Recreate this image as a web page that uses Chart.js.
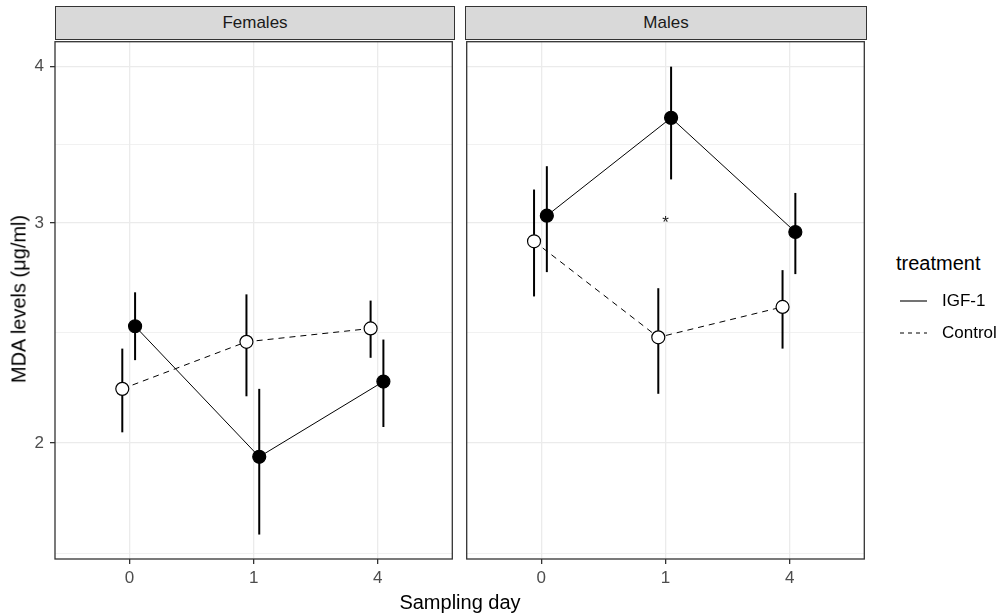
<!DOCTYPE html>
<html>
<head>
<meta charset="utf-8">
<script src="https://cdn.jsdelivr.net/npm/chart.js@4/dist/chart.umd.min.js"></script>
<style>
  body { margin: 0; background: #fff; font-family: "Liberation Sans", Arial, sans-serif; }
  #fig { position: relative; width: 1006px; height: 615px; overflow: hidden; }
  canvas { position: absolute; }
  .strip { position: absolute; top: 6px; height: 34px; background: #d9d9d9; border: 1.3px solid #333;
           box-sizing: border-box; font-size: 17px; color: #1a1a1a; text-align: center; line-height: 32px; }
  .txt { position: absolute; white-space: nowrap; color: #000; }
</style>
</head>
<body>
<div id="fig">
  <canvas id="left" width="460" height="581" style="left:0;top:34px"></canvas>
  <canvas id="right" width="413" height="581" style="left:459px;top:34px"></canvas>
  <div class="strip" style="left:55px;width:400px">Females</div>
  <div class="strip" style="left:465px;width:402px">Males</div>
  <div class="txt" style="left:19px;top:299px;font-size:20px;transform:translate(-50%,-50%) rotate(-90deg)">MDA levels (μg/ml)</div>
  <div class="txt" style="left:460px;top:602px;font-size:20px;transform:translate(-50%,-50%)">Sampling day</div>
  <div class="txt" style="left:896px;top:263px;font-size:20px;transform:translateY(-50%)">treatment</div>
  <svg style="position:absolute;left:0;top:0" width="1006" height="615">
    <line x1="900" y1="301" x2="927" y2="301" stroke="#000" stroke-width="1.1"/>
    <line x1="900" y1="333" x2="927" y2="333" stroke="#000" stroke-width="1.1" stroke-dasharray="4,4"/>
  </svg>
  <div class="txt" style="left:942px;top:301px;font-size:17px;transform:translateY(-50%)">IGF-1</div>
  <div class="txt" style="left:942px;top:333px;font-size:17px;transform:translateY(-50%)">Control</div>
</div>
<script>
const days = ["0", "1", "4"];
const yTicks = [2, 3, 4];

// Females
const femIgfMean = [2.48, 1.95, 2.24];
const femIgfLow = [2.33, 1.69, 2.06];
const femIgfHigh = [2.64, 2.21, 2.42];
const femCtrlMean = [2.21, 2.41, 2.47];
const femCtrlLow = [2.04, 2.18, 2.34];
const femCtrlHigh = [2.38, 2.63, 2.60];

// Males
const maleIgfMean = [3.04, 3.64, 2.95];
const maleIgfLow = [2.74, 3.25, 2.73];
const maleIgfHigh = [3.33, 4.0, 3.17];
const maleCtrlMean = [2.90, 2.43, 2.57];
const maleCtrlLow = [2.62, 2.19, 2.38];
const maleCtrlHigh = [3.19, 2.66, 2.75];

// significance mark on males, day "1"
const maleStarDay = 1;
const maleStarValue = 3.0;

const FONT = "'Liberation Sans', Arial, sans-serif";
const yMin = 1.6156, yMax = 4.188;

// ggplot-like minor breaks: midpoints in log space
const minorTicks = [yTicks[0] / Math.sqrt(yTicks[1] / yTicks[0])];
for (let i = 0; i < yTicks.length - 1; i++) minorTicks.push(Math.sqrt(yTicks[i] * yTicks[i + 1]));
const allY = minorTicks.concat(yTicks).sort((a, b) => a - b);
const isMajor = (v) => yTicks.some((t) => Math.abs(t - v) < 1e-9);

const noPad = (s) => { s.paddingTop = 0; s.paddingBottom = 0; s.paddingLeft = 0; s.paddingRight = 0; };

const errorBars = {
  id: "errorBars",
  beforeDatasetsDraw(chart) {
    const { ctx, scales } = chart;
    ctx.save();
    ctx.strokeStyle = "#000";
    ctx.lineWidth = 2;
    chart.data.datasets.forEach((ds) => {
      ds.data.forEach((p, i) => {
        const x = scales.x.getPixelForValue(p.x);
        ctx.beginPath();
        ctx.moveTo(x, scales.y.getPixelForValue(ds.low[i]));
        ctx.lineTo(x, scales.y.getPixelForValue(ds.high[i]));
        ctx.stroke();
      });
    });
    ctx.restore();
  },
  afterDraw(chart, args, opts) {
    const { ctx, chartArea, scales } = chart;
    ctx.save();
    if (opts.star) {
      ctx.fillStyle = "#222";
      ctx.font = "17px " + FONT;
      ctx.textAlign = "center";
      ctx.textBaseline = "middle";
      ctx.fillText("*", scales.x.getPixelForValue(opts.star.x), scales.y.getPixelForValue(opts.star.y));
    }
    ctx.strokeStyle = "#333";
    ctx.lineWidth = 1.3;
    ctx.strokeRect(chartArea.left, chartArea.top, chartArea.right - chartArea.left, chartArea.bottom - chartArea.top);
    ctx.restore();
  },
};

function series(mean, low, high, dodge, control) {
  return {
    data: mean.map((y, i) => ({ x: i + dodge, y: y })),
    low: low,
    high: high,
    borderColor: "#000",
    borderWidth: 1,
    borderDash: control ? [6, 5] : [],
    pointRadius: 6.5,
    pointHoverRadius: 6.5,
    pointBackgroundColor: control ? "#fff" : "#000",
    pointBorderColor: "#000",
    pointBorderWidth: 1.2,
    tension: 0,
  };
}

function makeChart(id, datasets, showY, star) {
  return new Chart(document.getElementById(id), {
    type: "line",
    data: { datasets: datasets },
    options: {
      responsive: false,
      animation: false,
      events: [],
      layout: { padding: { top: 6, right: 6, left: showY ? 0 : 6, bottom: 0 } },
      plugins: { legend: { display: false }, tooltip: { enabled: false }, errorBars: { star: star } },
      scales: {
        x: {
          type: "linear",
          min: -0.6,
          max: 2.6,
          afterBuildTicks: (s) => { s.ticks = days.map((d, i) => ({ value: i })); },
          afterFit: (s) => { s.height = 56; noPad(s); },
          ticks: { callback: (v) => days[v], color: "#4d4d4d", font: { size: 17, family: FONT }, padding: 4, maxRotation: 0 },
          grid: { color: "#ebebeb", lineWidth: 1.3, tickColor: "#333", tickLength: 5, tickWidth: 1.3 },
          border: { display: false },
        },
        y: {
          type: "logarithmic",
          min: yMin,
          max: yMax,
          bounds: "data",
          afterBuildTicks: (s) => { s.ticks = allY.map((v) => ({ value: v })); },
          afterFit: (s) => { s.width = showY ? 55 : 0; noPad(s); },
          ticks: {
            display: showY,
            callback: (v) => (isMajor(v) ? String(v) : ""),
            color: "#4d4d4d",
            font: { size: 17, family: FONT },
            padding: 6,
          },
          grid: {
            color: "#ebebeb",
            lineWidth: (c) => (isMajor(c.tick.value) ? 1.3 : 0.7),
            drawTicks: showY,
            tickColor: (c) => (isMajor(c.tick.value) ? "#333" : "rgba(0,0,0,0)"),
            tickLength: 5,
            tickWidth: 1.3,
          },
          border: { display: false },
        },
      },
    },
    plugins: [errorBars],
  });
}

makeChart("left", [
  series(femIgfMean, femIgfLow, femIgfHigh, 0.045, false),
  series(femCtrlMean, femCtrlLow, femCtrlHigh, -0.058, true),
], true, null);

makeChart("right", [
  series(maleIgfMean, maleIgfLow, maleIgfHigh, 0.045, false),
  series(maleCtrlMean, maleCtrlLow, maleCtrlHigh, -0.058, true),
], false, { x: maleStarDay, y: maleStarValue });
</script>
</body>
</html>
